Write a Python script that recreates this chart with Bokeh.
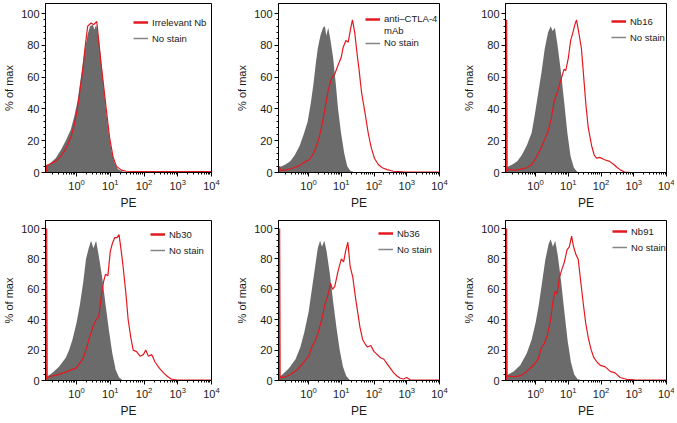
from bokeh.plotting import figure
from bokeh.models import FixedTicker, Legend, LegendItem, Range1d, BoxAnnotation
from bokeh.layouts import column, row
from bokeh.embed import file_html
from bokeh.resources import INLINE
import numpy as np

# ---------------- data (log10 PE, % of max) ----------------
panel_names = ["Irrelevant Nb", "anti\u2013CTLA-4", "Nb16", "Nb30", "Nb36", "Nb91"]
gray_name = "No stain"

p1_gray_log = [-0.92, -0.82, -0.62, -0.47, -0.32, -0.17, -0.07, 0.03, 0.13, 0.23, 0.33, 0.40, 0.48, 0.53, 0.58, 0.66, 0.73, 0.80, 0.88, 0.96, 1.04, 1.13, 1.23, 1.38, 1.68]
p1_gray_pct = [4, 5, 9, 14, 20, 27, 35, 45, 60, 75, 87, 92, 93, 90, 93, 85, 70, 55, 38, 24, 13, 6, 2, 0.5, 0]
p1_red_log = [-0.885, -0.885, -0.82, -0.62, -0.47, -0.32, -0.17, -0.07, 0.0, 0.08, 0.18, 0.26, 0.33, 0.43, 0.51, 0.60, 0.66, 0.73, 0.80, 0.88, 0.98, 1.08, 1.18, 1.33, 1.48, 1.88, 2.68, 4.0]
p1_red_pct = [0, 4.5, 5, 7, 10, 15, 22, 30, 37, 48, 64, 80, 92, 94, 93, 95, 82, 68, 55, 40, 22, 10, 4, 1.5, 0.8, 0.5, 0.5, 0.5]

p2_gray_log = [-0.92, -0.71, -0.56, -0.42, -0.27, -0.15, -0.03, 0.07, 0.15, 0.21, 0.28, 0.36, 0.44, 0.50, 0.54, 0.60, 0.67, 0.75, 0.83, 0.90, 0.99, 1.09, 1.18, 1.28, 1.43]
p2_gray_pct = [3, 5, 7, 11, 17, 24, 32, 44, 56, 67, 78, 86, 91, 92, 86, 91, 83, 72, 56, 40, 25, 12, 4, 1, 0]
p2_red_log = [-0.885, -0.885, -0.87, -0.71, -0.51, -0.32, -0.17, -0.08, 0.02, 0.12, 0.21, 0.31, 0.41, 0.50, 0.60, 0.70, 0.80, 0.89, 0.99, 1.06, 1.14, 1.21, 1.28, 1.34, 1.41, 1.48, 1.54, 1.62, 1.72, 1.82, 1.91, 2.01, 2.13, 2.25, 2.40, 2.59, 2.88, 4.0]
p2_red_pct = [0, 4, 1.5, 1.5, 2.5, 4, 6, 7, 8, 11, 15, 21, 30, 40, 52, 59, 62, 67, 72, 79, 83, 82, 90, 96, 88, 75, 65, 50, 38, 25, 16, 9, 5, 3, 1.8, 0.8, 0.4, 0.3]

p3_gray_log = [-0.92, -0.71, -0.56, -0.42, -0.27, -0.12, -0.02, 0.08, 0.18, 0.28, 0.38, 0.46, 0.52, 0.59, 0.67, 0.77, 0.87, 0.97, 1.07, 1.17, 1.27, 1.42]
p3_gray_pct = [3, 5, 7, 11, 17, 25, 37, 50, 63, 78, 88, 92, 89, 91, 80, 64, 45, 25, 10, 3, 0.5, 0]
p3_red_log = [-0.885, -0.885, -0.87, -0.66, -0.47, -0.27, -0.12, -0.02, 0.08, 0.18, 0.28, 0.38, 0.48, 0.57, 0.67, 0.77, 0.87, 0.92, 1.00, 1.07, 1.14, 1.20, 1.25, 1.32, 1.40, 1.47, 1.54, 1.61, 1.71, 1.79, 1.86, 1.96, 2.11, 2.26, 2.39, 2.50, 2.60, 2.72, 2.90, 4.0]
p3_red_pct = [0, 96, 2, 1.5, 2, 3, 5, 8, 12, 16, 21, 26, 34, 45, 51, 58, 65, 64, 72, 83, 88, 93, 96, 88, 78, 60, 42, 28, 17, 11, 9, 9.5, 8, 7, 5, 3, 1.5, 0.3, 0, 0]

p4_gray_log = [-0.92, -0.72, -0.52, -0.32, -0.22, -0.12, 0.0, 0.10, 0.20, 0.28, 0.36, 0.43, 0.50, 0.58, 0.66, 0.76, 0.86, 0.96, 1.06, 1.16, 1.26, 1.38]
p4_gray_pct = [2, 5, 9, 15, 20, 27, 38, 50, 65, 80, 87, 92, 87, 92, 82, 68, 50, 33, 18, 7, 2, 0]
p4_red_log = [-0.885, -0.885, -0.87, -0.72, -0.52, -0.32, -0.17, -0.02, 0.08, 0.18, 0.28, 0.38, 0.48, 0.58, 0.66, 0.73, 0.80, 0.86, 0.93, 1.00, 1.06, 1.13, 1.20, 1.26, 1.32, 1.38, 1.46, 1.53, 1.61, 1.68, 1.78, 1.88, 1.98, 2.05, 2.13, 2.23, 2.33, 2.46, 2.58, 2.68, 2.80, 2.98, 4.0]
p4_red_pct = [0, 100, 2, 3, 4, 5.5, 7, 8, 11, 14, 20, 28, 35, 40, 42, 55, 65, 70, 69, 85, 90, 94, 94, 96, 86, 75, 58, 40, 28, 20, 19, 16, 17, 20, 16, 17, 12, 8, 5, 3, 1, 0.2, 0.3]

p5_gray_log = [-0.92, -0.80, -0.60, -0.40, -0.25, -0.13, 0.0, 0.10, 0.20, 0.28, 0.35, 0.41, 0.48, 0.55, 0.65, 0.75, 0.85, 0.95, 1.05, 1.15, 1.25, 1.40]
p5_gray_pct = [2, 4, 8, 14, 22, 32, 45, 60, 75, 87, 92, 88, 92, 85, 70, 52, 35, 20, 9, 3, 0.5, 0]
p5_red_log = [-0.885, -0.885, -0.87, -0.75, -0.55, -0.35, -0.15, 0.0, 0.10, 0.20, 0.30, 0.40, 0.50, 0.60, 0.67, 0.73, 0.80, 0.90, 1.00, 1.07, 1.13, 1.20, 1.27, 1.35, 1.43, 1.50, 1.57, 1.65, 1.73, 1.80, 1.90, 2.00, 2.10, 2.20, 2.30, 2.40, 2.50, 2.60, 2.70, 2.80, 2.90, 3.00, 3.10, 3.25, 4.0]
p5_red_pct = [0, 100, 2, 2, 4, 7, 12, 16, 22, 26, 32, 40, 50, 57, 64, 60, 62, 72, 80, 78, 85, 91, 75, 68, 55, 45, 35, 27, 24, 22, 23, 19, 17, 15, 14, 11, 8, 5, 3, 1.5, 1, 2, 0.5, 0.3, 0.3]

p6_gray_log = [-0.92, -0.67, -0.47, -0.27, -0.12, 0.0, 0.10, 0.20, 0.30, 0.40, 0.46, 0.53, 0.60, 0.68, 0.78, 0.88, 0.98, 1.08, 1.18, 1.28, 1.43]
p6_gray_pct = [3, 6, 10, 18, 27, 38, 50, 65, 80, 90, 93, 88, 92, 82, 65, 45, 26, 12, 4, 1, 0]
p6_red_log = [-0.885, -0.885, -0.87, -0.67, -0.47, -0.27, -0.07, 0.08, 0.18, 0.26, 0.36, 0.46, 0.53, 0.60, 0.66, 0.73, 0.80, 0.88, 0.96, 1.03, 1.10, 1.16, 1.23, 1.30, 1.38, 1.46, 1.53, 1.61, 1.70, 1.78, 1.88, 1.98, 2.13, 2.28, 2.43, 2.58, 2.78, 3.03, 4.0]
p6_red_pct = [0, 100, 3, 2.5, 3, 6, 10, 14, 22, 24, 30, 40, 52, 59, 57, 68, 73, 78, 86, 88, 95, 88, 83, 80, 65, 50, 38, 28, 20, 15, 12, 10, 9, 6, 5, 2, 0.8, 0.5, 0.3]

x_major_ticks = [1, 10, 100, 1000, 10000]
y_major_ticks = [0, 20, 40, 60, 80, 100]

# ---------------- styling ----------------
RED = "#e3191f"
GRAY_FILL = "#6b6b6b"
GRAY_LINE = "#858585"
FONT = "Liberation Sans"
TXT = "#1a1a1a"

FRAME_W = 166
col_left = [45, 40, 40]
col_right = [22, 21, 8]
row_top = [3, 2]
row_frame_h = [169, 166]
row_bottom = [46, 34]
row_yend = [106.3, 105.3]
legend_loc = [(88, 128), (87, 124), (106, 129), (105, 124), (100, 125), (107, 127)]

x_lo = 10 ** -0.92
minor_x = [m * 10.0 ** k for k in range(-1, 4) for m in range(2, 10)]
minor_y = list(range(0, 104, 4))

panels = [
    (p1_red_log, p1_red_pct, p1_gray_log, p1_gray_pct),
    (p2_red_log, p2_red_pct, p2_gray_log, p2_gray_pct),
    (p3_red_log, p3_red_pct, p3_gray_log, p3_gray_pct),
    (p4_red_log, p4_red_pct, p4_gray_log, p4_gray_pct),
    (p5_red_log, p5_red_pct, p5_gray_log, p5_gray_pct),
    (p6_red_log, p6_red_pct, p6_gray_log, p6_gray_pct),
]


def make_panel(i):
    r, c = divmod(i, 3)
    red_log, red_pct, gray_log, gray_pct = panels[i]
    w = col_left[c] + FRAME_W + col_right[c]
    h = row_top[r] + row_frame_h[r] + row_bottom[r]
    p = figure(width=w, height=h, x_axis_type="log",
               x_range=Range1d(x_lo, 10000), y_range=Range1d(0, row_yend[r]),
               output_backend="svg", toolbar_location=None,
               min_border_left=col_left[c], min_border_right=col_right[c],
               min_border_top=row_top[r], min_border_bottom=row_bottom[r])
    p.grid.visible = False
    p.outline_line_color = "black"
    p.outline_line_width = 1
    p.background_fill_color = "white"
    p.border_fill_color = "white"

    gx = 10 ** np.array(gray_log)
    rx = 10 ** np.array(red_log)
    p.varea(x=gx, y1=np.zeros(len(gx)), y2=np.array(gray_pct), fill_color=GRAY_FILL)
    p.line(x=rx, y=np.array(red_pct), line_color=RED, line_width=1.2)

    # frame box
    p.add_layout(BoxAnnotation(fill_alpha=0, line_color="black", line_width=1, line_alpha=1))

    # axes
    p.xaxis.ticker = FixedTicker(ticks=x_major_ticks, minor_ticks=minor_x)
    p.yaxis.ticker = FixedTicker(ticks=y_major_ticks, minor_ticks=minor_y)
    p.xaxis.axis_label = "PE"
    p.yaxis.axis_label = "% of max"
    for ax in (p.xaxis, p.yaxis):
        ax.axis_line_color = "black"
        ax.axis_line_width = 1
        ax.major_tick_in = 0
        ax.major_tick_out = 4
        ax.minor_tick_in = 0
        ax.minor_tick_out = 2
        ax.major_tick_line_color = "black"
        ax.minor_tick_line_color = "black"
        ax.major_label_text_font = FONT
        ax.major_label_text_font_size = "11px"
        ax.major_label_text_color = TXT
        ax.major_label_standoff = 2
        ax.axis_label_text_font = FONT
        ax.axis_label_text_font_style = "normal"
        ax.axis_label_text_color = TXT
        ax.axis_label_standoff = 3
    p.xaxis.axis_label_text_font_size = "12px"
    p.yaxis.axis_label_text_font_size = "11px"

    # legend (dummy renderers hold points far outside the visible range)
    red_leg = p.line(x=[1e6, 2e6], y=[-50, -50], line_color=RED, line_width=2.5)
    gray_leg = p.line(x=[1e6, 2e6], y=[-50, -50], line_color=GRAY_LINE, line_width=1.5)
    items = [LegendItem(label=panel_names[i], renderers=[red_leg])]
    if i == 1:
        blank = p.line(x=[1e6, 2e6], y=[-50, -50], line_color=RED, line_alpha=0)
        items.append(LegendItem(label="mAb", renderers=[blank]))
        lh, sp = 10, 1
    else:
        lh, sp = 12, 4
    items.append(LegendItem(label=gray_name, renderers=[gray_leg]))
    leg = Legend(items=items, location=legend_loc[i], padding=0, margin=0,
                 spacing=sp, label_height=lh, glyph_height=lh, glyph_width=15,
                 label_standoff=4, border_line_color=None, background_fill_alpha=0,
                 label_text_font=FONT, label_text_font_size="9.5px",
                 label_text_color=TXT, label_text_baseline="middle")
    p.add_layout(leg)
    return p


figs = [make_panel(i) for i in range(6)]
layout = column(row(*figs[:3]), row(*figs[3:]))

open("out.html", "w").write(file_html(layout, INLINE))
